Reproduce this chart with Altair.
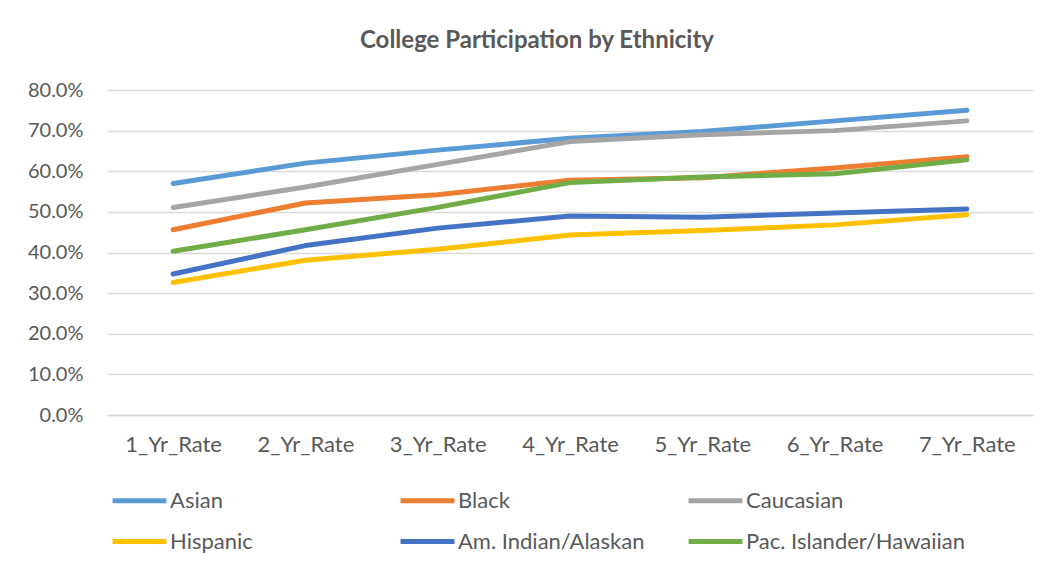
import altair as alt
import pandas as pd

periods = ["1_Yr_Rate", "2_Yr_Rate", "3_Yr_Rate", "4_Yr_Rate", "5_Yr_Rate", "6_Yr_Rate", "7_Yr_Rate"]
groups = ["Asian", "Black", "Caucasian", "Hispanic", "Am. Indian/Alaskan", "Pac. Islander/Hawaiian"]
colors = ["#5B9BD5", "#ED7D31", "#A5A5A5", "#FFC000", "#4472C4", "#70AD47"]

asian = [57.0, 62.0, 65.2, 68.1, 69.8, 72.4, 75.0]
black = [45.6, 52.2, 54.2, 57.8, 58.4, 60.8, 63.6]
caucasian = [51.1, 56.1, 61.7, 67.3, 69.0, 70.0, 72.4]
hispanic = [32.6, 38.1, 40.8, 44.3, 45.4, 46.8, 49.3]
am_indian = [34.7, 41.7, 46.0, 49.0, 48.7, 49.7, 50.7]
pac_islander = [40.3, 45.6, 51.1, 57.2, 58.6, 59.4, 62.8]

series = [asian, black, caucasian, hispanic, am_indian, pac_islander]
rows = []
for gi, (g, vals) in enumerate(zip(groups, series)):
    for p, v in zip(periods, vals):
        rows.append({"Period": p, "Group": g, "Rate": v / 100.0, "order": gi})
df = pd.DataFrame(rows)

FONT = "Lato"
TXT = "#595959"

chart = alt.Chart(df).mark_line(strokeWidth=5, strokeCap="round", strokeJoin="round").encode(
    x=alt.X("Period:N", sort=periods, title=None,
            scale=alt.Scale(type="point", padding=0.5),
            axis=alt.Axis(labelAngle=0, labelFontSize=22, labelColor=TXT, labelFont=FONT,
                          labelPadding=19, ticks=False, domain=True, domainColor="#D9D9D9",
                          domainWidth=1.5, grid=False)),
    y=alt.Y("Rate:Q", title=None,
            scale=alt.Scale(domain=[0, 0.8], nice=False),
            axis=alt.Axis(format=".1%", values=[0, 0.1, 0.2, 0.3, 0.4, 0.5, 0.6, 0.7, 0.8],
                          labelFontSize=20, labelColor=TXT, labelFont=FONT, labelPadding=24,
                          ticks=False, domain=False, gridColor="#D9D9D9", gridWidth=1.5)),
    color=alt.Color("Group:N", sort=groups,
                    scale=alt.Scale(domain=groups, range=colors),
                    legend=alt.Legend(title=None, orient="none", legendX=3, legendY=381,
                                      direction="horizontal", columns=3, gridAlign="all",
                                      columnPadding=0, rowPadding=-6, padding=0,
                                      symbolType="stroke", symbolSize=2900, symbolStrokeWidth=5,
                                      labelFontSize=22, labelColor=TXT, labelFont=FONT,
                                      labelOffset=1, labelLimit=400)),
    order=alt.Order("order:Q"),
).properties(
    width=926,
    height=325,
    title=alt.TitleParams("College Participation by Ethnicity", font=FONT, fontSize=24,
                          fontWeight="bold", color=TXT, anchor="middle", dx=-33, offset=27),
    autosize=alt.AutoSizeParams(type="none"),
    padding={"left": 99, "top": 82, "right": 13, "bottom": 150},
).configure(background="white").configure_view(stroke=None)

chart.save("out.html", embed_options={"renderer": "svg", "actions": False})
